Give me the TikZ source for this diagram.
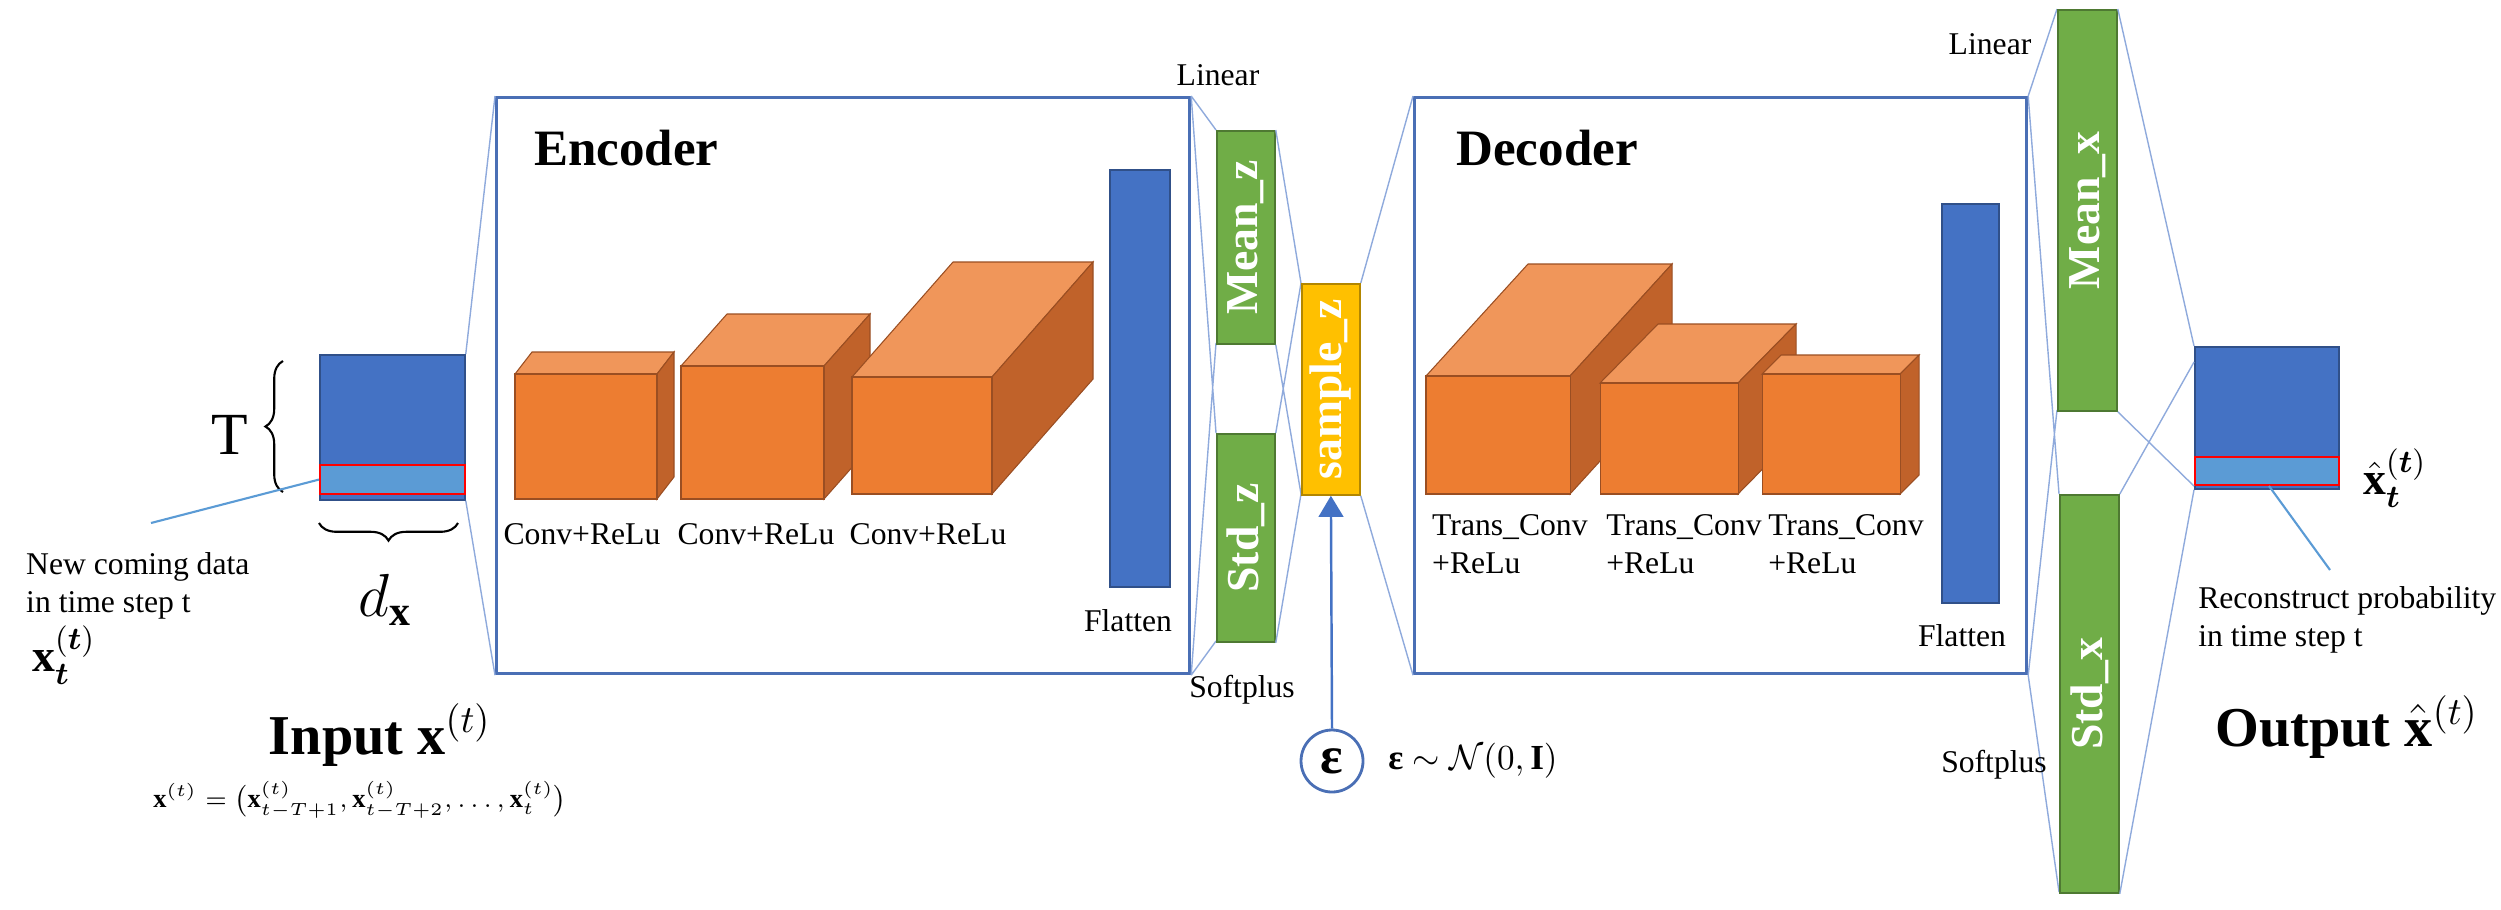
\documentclass[tikz,border=0pt]{standalone}
\usepackage{fontspec}
\setmainfont{Liberation Serif}
\usepackage{amsmath,amssymb}
\usetikzlibrary{arrows.meta,decorations.pathreplacing}
\definecolor{dblue}{HTML}{4472C4}
\definecolor{lblue}{HTML}{5B9BD5}
\definecolor{orf}{HTML}{ED7D31}
\definecolor{ort}{HTML}{F0965A}
\definecolor{ors}{HTML}{C0622A}
\definecolor{grn}{HTML}{70AD47}
\definecolor{ylw}{HTML}{FFC000}
\definecolor{thin}{HTML}{8FAADC}
\definecolor{frame}{HTML}{4A6FB5}
\newcommand\U{0.01cm}
\newcommand\mycube[6]{%
 \fill[ort,draw=ors!80!black,line width=0.3pt] (#1,#2)--++(#5,#6)--(#3+#5,#2+#6)--(#3,#2)--cycle;
 \fill[ors,draw=ors!80!black,line width=0.3pt] (#3,#2)--(#3+#5,#2+#6)--(#3+#5,#4+#6)--(#3,#4)--cycle;
 \fill[orf,draw=ors!80!black,line width=0.3pt] (#1,#2) rectangle (#3,#4);}
\tikzset{
 lbl/.style={font=\fontsize{9}{11}\selectfont,inner sep=1pt},
 vbar/.style={draw=#1!70!black,fill=#1,line width=0.5pt,inner sep=0pt,anchor=north west},
 vtxt/.style={text=white,font=\fontsize{13}{14}\selectfont\bfseries,rotate=90},
 tl/.style={draw=thin,line width=0.4pt},
 box/.style={draw=frame,line width=0.9pt,inner sep=0pt,anchor=north west},
}
\begin{document}
\begin{tikzpicture}[x=\U,y=-\U]
\useasboundingbox (0,0) rectangle (2501,909);
% input block
\node[vbar=dblue,minimum width=145*\U,minimum height=145*\U] (in) at (319,354) {};
\node[draw=red,fill=lblue,line width=0.6pt,minimum width=145*\U,minimum height=29*\U,inner sep=0pt,anchor=north west] (inb) at (319,464) {};
\draw[thin,decorate,decoration={brace,amplitude=5pt},line width=0.6pt] (283,492)--(283,361);
\node[font=\fontsize{17}{18}\selectfont] (T) at (230,435) {T};
\draw[thin,decorate,decoration={brace,amplitude=5pt,mirror},line width=0.6pt] (319,523)--(458,523);
\node[font=\fontsize{17}{18}\selectfont] (dx) at (385,600) {$d_{\mathbf{x}}$};
\coordinate (lead1) at (151,523);
\draw[lblue,line width=0.6pt] (lead1)--(inb.west);
\node[lbl,align=left,anchor=west] (newc) at (22,586) {New coming data\\in time step t};
\node[font=\fontsize{13}{14}\selectfont] (xt) at (64,655) {$\mathbf{x}_{\boldsymbol{t}}^{(\boldsymbol{t})}$};
\node[font=\fontsize{16}{18}\selectfont\bfseries] (inlab) at (380,735) {Input $\mathbf{x}^{(t)}$};
\node[font=\fontsize{7.5}{8}\selectfont] (form) at (360,800) {$\mathbf{x}^{(t)}=\bigl(\mathbf{x}^{(t)}_{t-T+1},\mathbf{x}^{(t)}_{t-T+2},\dots,\mathbf{x}^{(t)}_{t}\bigr)$};
% encoder
\node[box,minimum width=693*\U,minimum height=576*\U] (enc) at (495,96) {};
\draw[tl] (in.north east)--(enc.north west) (in.south east)--(enc.south west);
\node[font=\fontsize{14.5}{16}\selectfont\bfseries,anchor=west] (enct) at (522,148) {Encoder};
\mycube{515}{374}{657}{499}{17}{-22}
\mycube{681}{366}{824}{499}{46}{-52}
\mycube{852}{377}{992}{494}{101}{-115}
\node[lbl] (c1) at (582,534) {Conv+ReLu};
\node[lbl] (c2) at (756,534) {Conv+ReLu};
\node[lbl] (c3) at (928,534) {Conv+ReLu};
\node[vbar=dblue,minimum width=60*\U,minimum height=417*\U] (fl1) at (1109,169) {};
\node[lbl] (flt1) at (1128,621) {Flatten};
% mean/std z
\coordinate (mzNW) at (1216,130); \coordinate (mzSW) at (1216,343);
\coordinate (szNW) at (1216,433); \coordinate (szSW) at (1216,641);
\draw[tl] (enc.north east)--(mzNW) (enc.south east)--(szSW)
 (enc.north east)--(szNW) (enc.south east)--(mzSW);
\node[vbar=grn,minimum width=58*\U,minimum height=213*\U] (mz) at (mzNW) {};
\node[vtxt] at (mz.center) {Mean\_z};
\node[vbar=grn,minimum width=58*\U,minimum height=208*\U] (sz) at (szNW) {};
\node[vtxt] at (sz.center) {Std\_z};
\node[lbl] (lin1) at (1218,75) {Linear};
\node[lbl] (sp1) at (1242,690) {Softplus};
\coordinate (smNW) at (1301,283); \coordinate (smSW) at (1301,494);
\draw[tl] (mz.north east)--(smNW) (sz.south east)--(smSW)
 (mz.south east)--(smSW) (sz.north east)--(smNW);
\node[vbar=ylw,minimum width=58*\U,minimum height=211*\U] (smp) at (smNW) {};
\node[vtxt] at (smp.center) {sample\_z};
\node[circle,draw=frame,line width=0.8pt,minimum size=62*\U,inner sep=0pt,font=\fontsize{15}{15}\selectfont\bfseries] (eps) at (1332,761) {ε};
\draw[-{Triangle[width=7pt,length=6pt]},dblue,line width=0.7pt] (eps.north)--(smp.south);
\node[font=\fontsize{10}{11}\selectfont,anchor=west] (epst) at (1376,761) {\textbf{ε} $\sim\mathcal{N}(0,\mathbf{I})$};
% decoder
\node[box,minimum width=612*\U,minimum height=576*\U] (dec) at (1413,96) {};
\draw[tl] (smp.north east)--(dec.north west) (smp.south east)--(dec.south west);
\node[font=\fontsize{14.5}{16}\selectfont\bfseries,anchor=west] (dect) at (1444,148) {Decoder};
\mycube{1426}{376}{1570}{494}{102}{-112}
\mycube{1600}{383}{1738}{494}{58}{-59}
\mycube{1762}{374}{1900}{494}{19}{-19}
\node[lbl,align=left,anchor=north west] (d1) at (1428,510) {Trans\_Conv\\+ReLu};
\node[lbl,align=left,anchor=north west] (d2) at (1602,510) {Trans\_Conv\\+ReLu};
\node[lbl,align=left,anchor=north west] (d3) at (1764,510) {Trans\_Conv\\+ReLu};
\node[vbar=dblue,minimum width=57*\U,minimum height=399*\U] (fl2) at (1941,203) {};
\node[lbl] (flt2) at (1962,636) {Flatten};
% mean/std x
\coordinate (mxNW) at (2057,9); \coordinate (mxSW) at (2057,410);
\coordinate (sxNW) at (2059,494); \coordinate (sxSW) at (2059,892);
\draw[tl] (dec.north east)--(mxNW) (dec.south east)--(sxSW)
 (dec.north east)--(sxNW) (dec.south east)--(mxSW);
\node[vbar=grn,minimum width=59*\U,minimum height=401*\U] (mx) at (mxNW) {};
\node[vtxt] at (mx.center) {Mean\_x};
\node[vbar=grn,minimum width=59*\U,minimum height=398*\U] (sx) at (sxNW) {};
\node[vtxt] at (sx.center) {Std\_x};
\node[lbl] (lin2) at (1990,44) {Linear};
\node[lbl] (sp2) at (1994,765) {Softplus};
% output
\node[vbar=dblue,minimum width=144*\U,minimum height=142*\U] (out) at (2194,346) {};
\node[draw=red,fill=lblue,line width=0.6pt,minimum width=144*\U,minimum height=28*\U,inner sep=0pt,anchor=north west] (outb) at (2194,456) {};
\draw[tl] (mx.north east)--(out.north west) (sx.south east)--(out.south west)
 (mx.south east)--(outb.south west) (sx.north east)--(2194,362);
\node[font=\fontsize{13}{14}\selectfont] (xh) at (2395,478) {$\hat{\mathbf{x}}_{\boldsymbol{t}}^{(\boldsymbol{t})}$};
\coordinate (lead2) at (2330,570);
\draw[lblue,line width=0.6pt] (2269,486)--(lead2);
\node[lbl,align=left,anchor=west] (rec) at (2194,620) {Reconstruct probability\\ in time step t};
\node[font=\fontsize{16}{18}\selectfont\bfseries,anchor=west] (outlab) at (2203,727) {Output $\hat{\mathbf{x}}^{(t)}$};
\end{tikzpicture}
\end{document}
